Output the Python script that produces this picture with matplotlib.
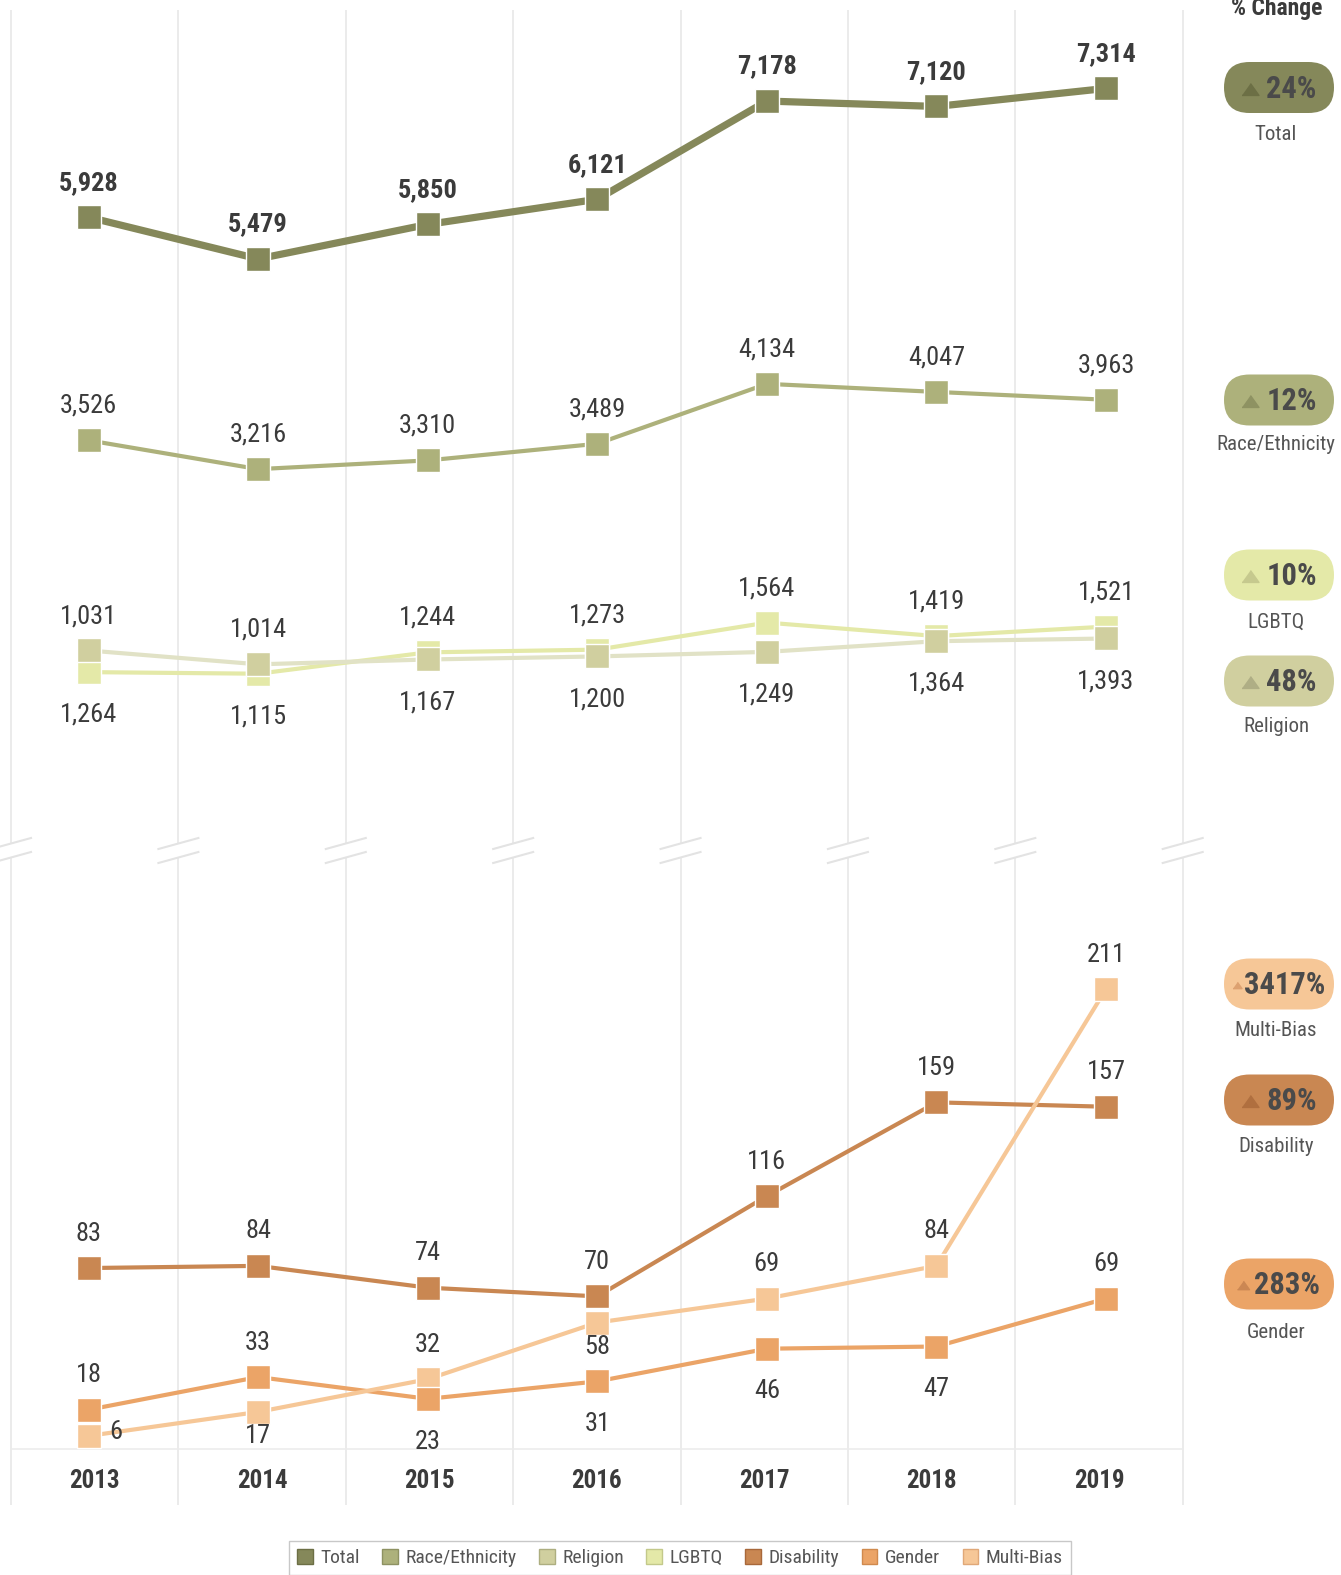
import numpy as np
import matplotlib
matplotlib.use("Agg")
import matplotlib.pyplot as plt
from matplotlib.patches import FancyBboxPatch, Patch

plt.rcParams['font.family'] = ['Roboto Condensed', 'DejaVu Sans']

# ---- data ----
years = ['2013', '2014', '2015', '2016', '2017', '2018', '2019']
total = [5928, 5479, 5850, 6121, 7178, 7120, 7314]
race = [3526, 3216, 3310, 3489, 4134, 4047, 3963]
religion = [1031, 1014, 1244, 1273, 1564, 1419, 1521]
lgbtq = [1264, 1115, 1167, 1200, 1249, 1364, 1393]
disability = [83, 84, 74, 70, 116, 159, 157]
gender = [18, 33, 23, 31, 46, 47, 69]
multi_bias = [6, 17, 32, 58, 69, 84, 211]

badge_names = ['Total', 'Race/Ethnicity', 'LGBTQ', 'Religion', 'Multi-Bias', 'Disability', 'Gender']
badge_pct = ['24%', '12%', '10%', '48%', '3417%', '89%', '283%']

legend_names = ['Total', 'Race/Ethnicity', 'Religion', 'LGBTQ', 'Disability', 'Gender', 'Multi-Bias']

# ---- colours ----
c_total = '#85885A'
c_race = '#ADB17B'
c_relig = '#D0CF9F'
c_lgbtq = '#E4E9A8'
c_dis = '#C98752'
c_gen = '#EBA467'
c_multi = '#F6C797'
TXT = '#3B3B3B'
FS = 19

W, H = 1341, 1575
fig = plt.figure(figsize=(W / 100, H / 100), dpi=100)


def fy(py):
    return 1 - py / H


x = np.arange(len(years))
xlim = (-0.522, 6.554)
bounds = -0.457 + 0.987 * np.arange(8)

ax_top = fig.add_axes([0, fy(844), 1200 / W, (844 - 10) / H])
ax_bot = fig.add_axes([0, fy(1505), 1200 / W, (1505 - 858) / H])
ax_top.set_ylim(-819, 8158)
ax_bot.set_ylim(-25.7, 271.1)
for ax in (ax_top, ax_bot):
    ax.set_xlim(*xlim)
    ax.axis('off')
    for b in bounds:
        ax.axvline(b, color='#E8E8E8', lw=1.2, zorder=0)
ax_bot.plot([bounds[0], bounds[-1]], [0, 0], color='#ECECEC', lw=1.2, zorder=0)


def series(ax, vals, color, lw, z, line_color=None):
    ax.plot(x, vals, color=line_color or color, lw=lw, zorder=z, solid_capstyle='butt')


def marks(ax, vals, color, z):
    ax.plot(x, vals, ls='none', marker='s', ms=17.8, mfc=color, mec='white', mew=1.0, zorder=z)


OFF = {'above': (0, 24.8), 'below': (0, -30.8), 'near': (0, -17.5), 'right': (19.5, 2.9)}


def label(ax, xi, yv, text, where, bold=False):
    ax.annotate(text, (xi, yv), xytext=OFF[where], textcoords='offset points',
                ha='center', va='center', fontsize=FS, color=TXT, zorder=20,
                fontweight='bold' if bold else 'normal')


# top panel
series(ax_top, religion, c_lgbtq, 3.0, 2)
series(ax_top, lgbtq, c_relig, 3.0, 3, line_color='#E1E2C6')
marks(ax_top, religion, c_lgbtq, 4)
marks(ax_top, lgbtq, c_relig, 5)
series(ax_top, race, c_race, 3.0, 6)
marks(ax_top, race, c_race, 7)
series(ax_top, total, c_total, 5.2, 8)
marks(ax_top, total, c_total, 9)

for i in range(len(years)):
    label(ax_top, x[i], total[i], f'{total[i]:,}', 'above', bold=True)
    label(ax_top, x[i], race[i], f'{race[i]:,}', 'above')
    hi, lo = max(religion[i], lgbtq[i]), min(religion[i], lgbtq[i])
    label(ax_top, x[i], hi, f'{religion[i]:,}', 'above')
    label(ax_top, x[i], lo, f'{lgbtq[i]:,}', 'below')

# bottom panel
series(ax_bot, disability, c_dis, 3.0, 2)
series(ax_bot, gender, c_gen, 3.0, 3)
series(ax_bot, multi_bias, c_multi, 3.0, 4)
marks(ax_bot, multi_bias, c_multi, 5)
marks(ax_bot, gender, c_gen, 6)
marks(ax_bot, disability, c_dis, 7)

gen_pos = ['above', 'above', 'below', 'below', 'below', 'below', 'above']
multi_pos = ['right', 'near', 'above', 'near', 'above', 'above', 'above']
for i in range(len(years)):
    label(ax_bot, x[i], disability[i], str(disability[i]), 'above')
    label(ax_bot, x[i], gender[i], str(gender[i]), gen_pos[i])
    label(ax_bot, x[i], multi_bias[i], str(multi_bias[i]), multi_pos[i])

centers = (bounds[:-1] + bounds[1:]) / 2
for xc, yr in zip(centers, years):
    ax_bot.annotate(yr, (xc, 0), xytext=(0, -23), textcoords='offset points',
                    ha='center', va='center', fontsize=18, fontweight='bold', color=TXT)

# overlay in pixel coordinates for the break marks and badges
ov = fig.add_axes([0, 0, 1, 1])
ov.set_xlim(0, W)
ov.set_ylim(H, 0)
ov.axis('off')

for b in bounds:
    g = (b - xlim[0]) / (xlim[1] - xlim[0]) * 1200
    ov.plot([g - 20, g + 20], [849, 838], color='#E3E3E3', lw=1.5)
    ov.plot([g - 20, g + 20], [863, 852], color='#E3E3E3', lw=1.5)

ov.text(1277, 15, '% Change', ha='center', va='baseline', fontsize=17,
        fontweight='bold', color=TXT)

badge_fill = [c_total, c_race, c_lgbtq, c_relig, c_multi, c_dis, c_gen]
badge_tri = ['#6C6F45', '#8E9262', '#C6C98E', '#AFAE85', '#DDA170', '#B06F3F', '#CB8753']
badge_y = [87.5, 400, 575, 681, 984, 1100, 1284]
label_y = [135, 445, 622, 727, 1031, 1147, 1332]
tri_w = [17, 17, 17, 17, 9, 17, 12]
tri_gap = [8, 8, 8, 8, 3, 8, 5]
bx, bw, bh = 1279, 110, 51

renderer = fig.canvas.get_renderer()
tri_shape = [(-1, -0.7), (1, -0.7), (0, 0.7)]
for k in range(len(badge_names)):
    cy = badge_y[k]
    ov.add_patch(FancyBboxPatch((bx - bw / 2, cy - bh / 2), bw, bh,
                                boxstyle=f'round,pad=0,rounding_size={bh / 2}',
                                fc=badge_fill[k], ec='none'))
    t = ov.text(0, cy + 1, badge_pct[k], ha='left', va='center', fontsize=22,
                fontweight='bold', color='#4A4A4A')
    tw = t.get_window_extent(renderer=renderer).width
    start = bx - (tri_w[k] + tri_gap[k] + tw) / 2
    t.set_x(start + tri_w[k] + tri_gap[k])
    ov.plot(start + tri_w[k] / 2, cy + 1, ls='none', marker=tri_shape,
            ms=tri_w[k] * 0.72, color=badge_tri[k])
    ov.text(bx - 3, label_y[k], badge_names[k], ha='center', va='center', fontsize=15, color='#555555')

# legend
leg_fill = [c_total, c_race, c_relig, c_lgbtq, c_dis, c_gen, c_multi]
leg_edge = ['#6C6F45', '#8E9262', '#ADAE80', '#C3C98A', '#A8683A', '#D08A4E', '#E0A878']
handles = [Patch(facecolor=f, edgecolor=e, lw=1) for f, e in zip(leg_fill, leg_edge)]
leg = fig.legend(handles, legend_names, loc='upper center', bbox_to_anchor=(680 / W, fy(1541)),
                 ncol=7, frameon=True, fancybox=False, fontsize=14, edgecolor='#BBBBBB',
                 handlelength=0.8, handleheight=0.8, handletextpad=0.4, columnspacing=1.15,
                 borderpad=0.4, borderaxespad=0, labelcolor='#555555')
leg.get_frame().set_linewidth(1.0)

fig.savefig('out.png', dpi=100)
